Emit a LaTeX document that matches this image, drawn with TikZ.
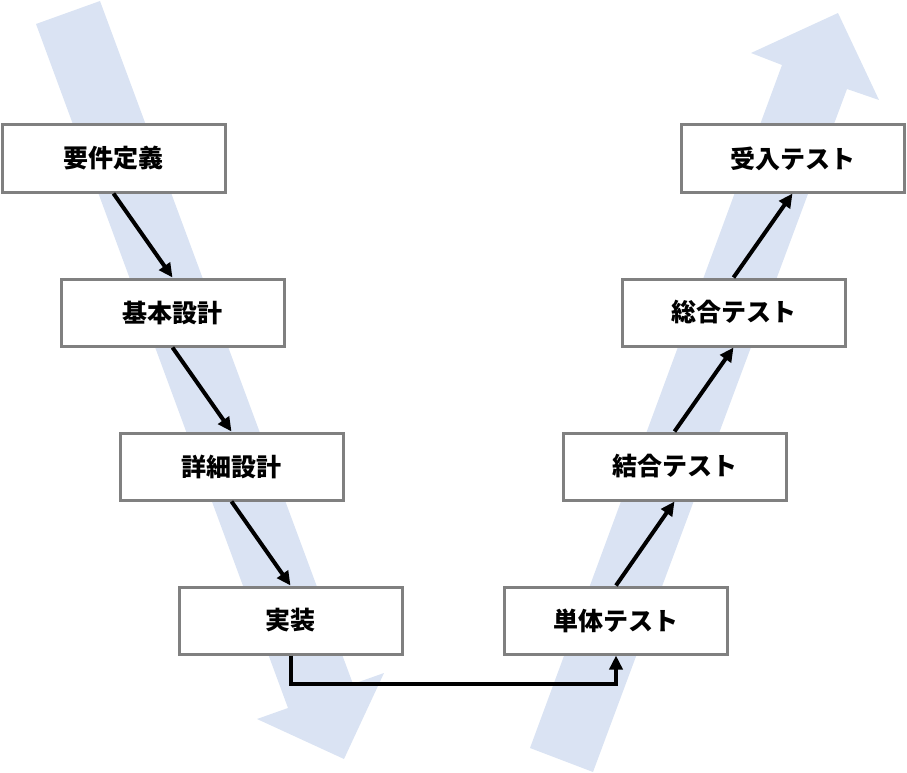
\documentclass[tikz,border=0pt]{standalone}
\usepackage{fontspec}
\setmainfont{Noto Sans CJK JP}
\usetikzlibrary{arrows.meta}
\definecolor{flowblue}{RGB}{218,227,243}
\definecolor{boxgray}{RGB}{128,128,128}
\tikzset{
  stage/.style={draw=boxgray, line width=3pt, fill=white, inner sep=0pt,
    minimum width=223pt, minimum height=67pt,
    font=\bfseries\fontsize{25}{29}\selectfont},
  flow/.style={line width=4pt, -{Triangle[length=14pt,width=13pt]}},
}
\begin{document}
\begin{tikzpicture}[x=1pt,y=-1pt]
    \useasboundingbox (0,0) rectangle (907,773);
    % big background arrows
    \fill[flowblue] (36,24) -- (100,1) -- (353,684) -- (384,673) -- (344,759) -- (257,719) -- (288,708) -- cycle;
    \fill[flowblue] (530,748) -- (593,772) -- (847,89) -- (879,100) -- (838,13) -- (751,53) -- (782,65) -- cycle;
    % left side
    \node[stage] (req) at (113.5,158.5) {要件定義};
    \node[stage] (basic) at (172.5,312.5) {基本設計};
    \node[stage] (detail) at (231.5,466.5) {詳細設計};
    \node[stage] (impl) at (290.5,620.5) {実装};
    % right side
    \node[stage] (unit) at (616,620.5) {単体テスト};
    \node[stage] (integ) at (674.5,466.5) {結合テスト};
    \node[stage] (system) at (733.5,312.5) {総合テスト};
    \node[stage] (accept) at (792.5,158.5) {受入テスト};
    \draw[flow] (req.south) -- (basic.north);
    \draw[flow] (basic.south) -- (detail.north);
    \draw[flow] (detail.south) -- (impl.north);
    \draw[flow] (impl.south) -- ++(0,28) -| (unit.south);
    \draw[flow] (unit.north) -- (integ.south);
    \draw[flow] (integ.north) -- (system.south);
    \draw[flow] (system.north) -- (accept.south);
\end{tikzpicture}
\end{document}
